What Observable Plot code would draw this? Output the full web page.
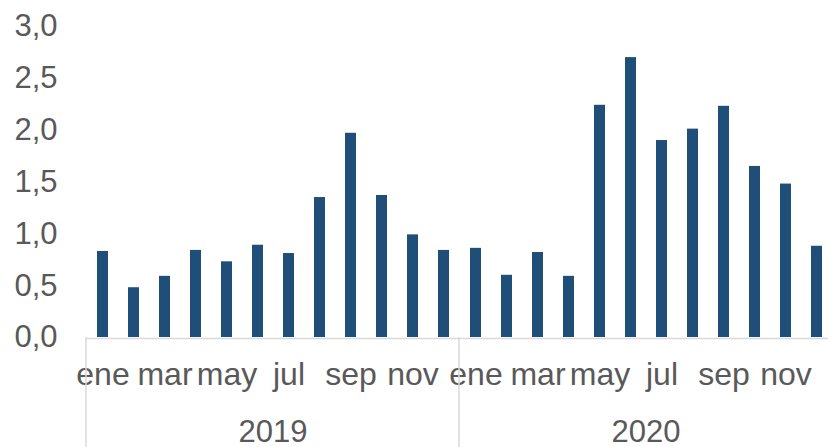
<!DOCTYPE html>
<html>
<head>
<meta charset="utf-8">
<script src="https://cdn.jsdelivr.net/npm/d3@7"></script>
<script src="https://cdn.jsdelivr.net/npm/@observablehq/plot@0.6"></script>
<style>
  html, body { margin: 0; padding: 0; background: #fff; }
  svg { overflow: visible; }
</style>
</head>
<body>
<div id="chart"></div>
<script>
const years = ["2019", "2020"];
const months = ["ene", "feb", "mar", "abr", "may", "jun", "jul", "ago", "sep", "oct", "nov", "dic"];
const values2019 = [0.83, 0.48, 0.59, 0.84, 0.73, 0.89, 0.81, 1.35, 1.97, 1.37, 0.99, 0.84];
const values2020 = [0.86, 0.60, 0.82, 0.59, 2.24, 2.70, 1.90, 2.01, 2.23, 1.65, 1.48, 0.88];
const yTicks = [0, 0.5, 1, 1.5, 2, 2.5, 3];
const shownMonths = ["ene", "mar", "may", "jul", "sep", "nov"];

const data = [];
[values2019, values2020].forEach((vals, yi) => {
  vals.forEach((v, mi) => data.push({year: years[yi], month: months[mi], value: v}));
});

const textColor = "#595959";
const fmt = d => d.toFixed(1).replace(".", ",");

const plot = Plot.plot({
  width: 828,
  height: 447,
  marginLeft: 85,
  marginRight: -4,
  marginTop: 26,
  marginBottom: 110,
  style: {fontFamily: "'Liberation Sans', Arial, sans-serif", fontSize: "31px", color: textColor, background: "#fff"},
  fx: {domain: years, padding: 0, label: null},
  x: {domain: months, paddingInner: 0.647, paddingOuter: 0.3235, label: null},
  y: {domain: [0, 3], label: null},
  marks: [
    Plot.barY(data, {fx: "year", x: "month", y: "value", fill: "#1f4e79"}),
    Plot.ruleY([0], {stroke: "#d9d9d9", strokeWidth: 1.5, dy: 1}),
    Plot.axisY({ticks: yTicks, tickFormat: fmt, tickSize: 0, tickPadding: 29, fontSize: 31, fill: textColor, label: null}),
    Plot.axisX({ticks: shownMonths, tickSize: 0, tickPadding: 25, fontSize: 32, fill: textColor, label: null}),
    Plot.axisFx({anchor: "bottom", tickSize: 0, tickPadding: 82, fontSize: 31, fill: textColor, label: null})
  ]
});

document.getElementById("chart").appendChild(plot);

// separators between year groups, positioned through Plot's own scales
const fxScale = plot.scale("fx");
const yScale = plot.scale("y");
const svg = d3.select(plot.tagName.toLowerCase() === "svg" ? plot : plot.querySelector("svg"));
const y0 = yScale.apply(0);
years.forEach(yr => {
  const xPos = fxScale.apply(yr);
  svg.append("line")
    .attr("x1", xPos).attr("x2", xPos)
    .attr("y1", y0).attr("y2", 447)
    .attr("stroke", "#d9d9d9")
    .attr("stroke-width", 1.5);
});
</script>
</body>
</html>
